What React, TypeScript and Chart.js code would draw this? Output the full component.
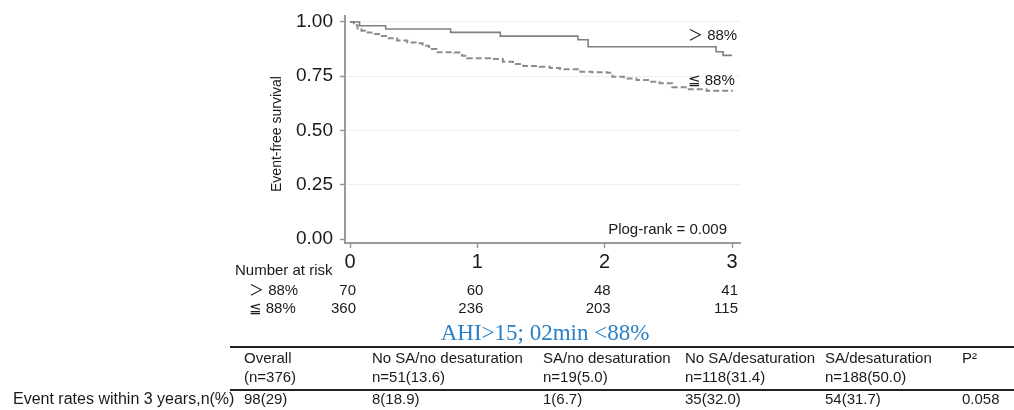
import React, { useEffect, useRef } from "react";
import { Chart, registerables } from "chart.js";

Chart.register(...registerables);

// ---- Data ----
const highTimes = [0, 0.075, 0.28, 0.79, 1.18, 1.79, 1.87, 2.875, 2.93, 3.0];
const highSurv = [1.0, 0.983, 0.968, 0.952, 0.935, 0.918, 0.886, 0.863, 0.846, 0.846];

const lowTimes = [0, 0.03, 0.06, 0.09, 0.12, 0.18, 0.24, 0.29, 0.37, 0.45, 0.53, 0.57, 0.62, 0.68, 0.82, 0.88, 0.92, 1.1, 1.2, 1.28, 1.36, 1.49, 1.57, 1.65, 1.81, 1.9, 2.02, 2.06, 2.15, 2.25, 2.35, 2.43, 2.53, 2.65, 2.8, 3.0];
const lowSurv = [1.0, 0.985, 0.97, 0.96, 0.952, 0.945, 0.935, 0.925, 0.915, 0.906, 0.902, 0.89, 0.875, 0.86, 0.859, 0.845, 0.833, 0.829, 0.817, 0.806, 0.797, 0.794, 0.788, 0.782, 0.771, 0.768, 0.766, 0.748, 0.74, 0.733, 0.725, 0.718, 0.699, 0.69, 0.683, 0.68];

const xTickValues = [0, 1, 2, 3];
const yTickValues = [0, 0.25, 0.5, 0.75, 1];

const riskTimes = [0, 1, 2, 3];
const riskHigh = [70, 60, 48, 41];
const riskLow = [360, 236, 203, 115];

const groupLabels = ["＞ 88%", "≦ 88%"];
const yTitle = "Event-free survival";
const pLogRank = "Plog-rank = 0.009";
const riskTitle = "Number at risk";
const subTitle = "AHI>15; 02min <88%";

const tableHeaders = ["Overall", "No SA/no desaturation", "SA/no desaturation", "No SA/desaturation", "SA/desaturation", "P²"];
const tableN = ["(n=376)", "n=51(13.6)", "n=19(5.0)", "n=118(31.4)", "n=188(50.0)", ""];
const tableRates = ["98(29)", "8(18.9)", "1(6.7)", "35(32.0)", "54(31.7)", "0.058"];
const rowLabel = "Event rates within 3 years,n(%)";

const FONT = "'Liberation Sans', Arial, 'DejaVu Sans', 'Noto Sans CJK JP', sans-serif";
const SERIF = "'Liberation Serif', 'Times New Roman', serif";

const annotations = {
  id: "annotations",
  afterDraw(chart: any) {
    const ctx = chart.ctx as CanvasRenderingContext2D;
    const xs = chart.scales.x;
    ctx.save();
    ctx.fillStyle = "#1a1a1a";

    // y-axis title
    ctx.save();
    ctx.translate(277, 134);
    ctx.rotate(-Math.PI / 2);
    ctx.font = `14px ${FONT}`;
    ctx.textAlign = "center";
    ctx.textBaseline = "middle";
    ctx.fillText(yTitle, 0, 0);
    ctx.restore();

    // curve labels
    ctx.font = `15px ${FONT}`;
    ctx.textBaseline = "middle";
    ctx.textAlign = "left";
    ctx.fillText(groupLabels[0], 688, 36);
    ctx.fillText(groupLabels[1], 688, 81);
    ctx.textAlign = "right";
    ctx.fillText(pLogRank, 727, 230);

    // number at risk
    ctx.textAlign = "left";
    ctx.fillText(riskTitle, 235, 271);
    ctx.fillText(groupLabels[0], 249, 291);
    ctx.fillText(groupLabels[1], 249, 309);
    ctx.textAlign = "right";
    riskTimes.forEach((t, i) => {
      const px = xs.getPixelForValue(t) + 6;
      ctx.fillText(String(riskHigh[i]), px, 291);
      ctx.fillText(String(riskLow[i]), px, 309);
    });

    // subtitle
    ctx.font = `23px ${SERIF}`;
    ctx.fillStyle = "#2a80c6";
    ctx.textAlign = "center";
    ctx.fillText(subTitle, 545, 334);

    // table lines
    ctx.strokeStyle = "#222";
    ctx.lineWidth = 2;
    ctx.beginPath();
    ctx.moveTo(230, 347);
    ctx.lineTo(1014, 347);
    ctx.moveTo(230, 390);
    ctx.lineTo(1014, 390);
    ctx.stroke();

    // table text
    const colX = [244, 372, 543, 685, 825, 962];
    ctx.fillStyle = "#1a1a1a";
    ctx.textAlign = "left";
    ctx.font = `15px ${FONT}`;
    tableHeaders.forEach((h, i) => ctx.fillText(h, colX[i], 359));
    tableN.forEach((h, i) => ctx.fillText(h, colX[i], 378));
    tableRates.forEach((h, i) => ctx.fillText(h, colX[i], 400));
    ctx.font = `16px ${FONT}`;
    ctx.fillText(rowLabel, 13, 400);

    ctx.restore();
  },
};

export default function App() {
  const ref = useRef<HTMLCanvasElement | null>(null);

  useEffect(() => {
    if (!ref.current) return;
    const chart = new Chart(ref.current, {
      type: "line",
      data: {
        datasets: [
          {
            label: groupLabels[0],
            data: highTimes.map((t, i) => ({ x: t, y: highSurv[i] })),
            stepped: true,
            borderColor: "#808080",
            borderWidth: 1.6,
            pointRadius: 0,
            fill: false,
          },
          {
            label: groupLabels[1],
            data: lowTimes.map((t, i) => ({ x: t, y: lowSurv[i] })),
            stepped: true,
            borderColor: "#8c8c8c",
            borderDash: [6, 3],
            borderWidth: 2,
            pointRadius: 0,
            fill: false,
          },
        ],
      },
      options: {
        animation: false,
        responsive: false,
        devicePixelRatio: 1,
        layout: { padding: { top: 16, right: 274, left: 0, bottom: 0 } },
        plugins: { legend: { display: false }, tooltip: { enabled: false } },
        scales: {
          x: {
            type: "linear",
            min: -0.0393,
            max: 3.0628,
            afterFit: (s: any) => {
              s.height = 167;
            },
            afterBuildTicks: (s: any) => {
              s.ticks = xTickValues.map((v) => ({ value: v }));
            },
            ticks: {
              font: { size: 20, family: FONT },
              color: "#1a1a1a",
              padding: 2,
              maxRotation: 0,
              autoSkip: false,
              callback: (v: any) => String(v),
            },
            grid: { drawOnChartArea: false, drawTicks: true, tickLength: 5, tickColor: "#999", tickWidth: 1.5 },
            border: { display: true, color: "#9a9a9a", width: 2 },
          },
          y: {
            type: "linear",
            min: -0.0184,
            max: 1.0276,
            afterFit: (s: any) => {
              s.width = 345;
            },
            afterBuildTicks: (s: any) => {
              s.ticks = yTickValues.map((v) => ({ value: v }));
            },
            ticks: {
              font: { size: 19, family: FONT, lineHeight: 0.8 },
              color: "#1a1a1a",
              padding: 7,
              callback: (v: any) => Number(v).toFixed(2),
            },
            grid: {
              color: (c: any) => (c.tick && c.tick.value === 0 ? "rgba(0,0,0,0)" : "#eeeeee"),
              tickColor: "#999",
              tickLength: 5,
              tickWidth: 1.5,
            },
            border: { display: true, color: "#9a9a9a", width: 2 },
          },
        },
      },
      plugins: [annotations],
    } as any);
    return () => chart.destroy();
  }, []);

  return (
    <canvas
      ref={ref}
      width={1014}
      height={410}
      style={{ position: "absolute", left: 0, top: 0, display: "block" }}
    />
  );
}
